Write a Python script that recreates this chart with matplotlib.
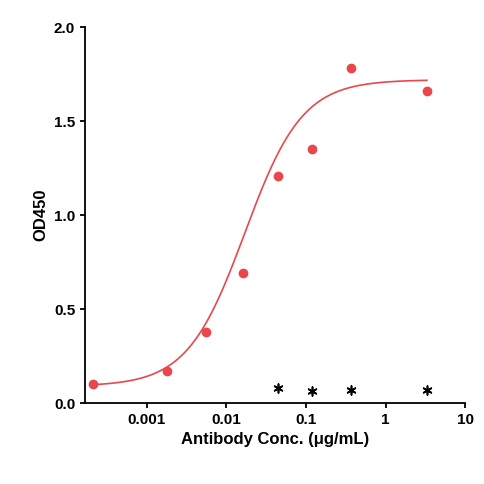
import numpy as np
import matplotlib
matplotlib.use("Agg")
import matplotlib.pyplot as plt
plt.rcParams['font.family'] = ['Liberation Sans', 'DejaVu Sans']

conc = [0.00021, 0.0018, 0.0055, 0.016, 0.044, 0.12, 0.37, 3.3]
od = [0.10, 0.17, 0.38, 0.69, 1.21, 1.35, 1.78, 1.66]
ctrl_conc = [0.044, 0.12, 0.37, 3.3]
ctrl_od = [0.08, 0.065, 0.07, 0.07]
bottom, top, ec50, hill = 0.09, 1.72, 0.017, 1.2

fig = plt.figure(figsize=(4.85, 4.84), dpi=100)
ax = fig.add_axes([0.175, 0.167, 0.784, 0.777])
xs = np.logspace(np.log10(0.00021), np.log10(3.3), 300)
ys = bottom + (top - bottom) / (1 + (ec50 / xs) ** hill)
ax.plot(xs, ys, color="#e8474c", lw=1.2)
ax.scatter(conc, od, color="#e8474c", s=36, zorder=3)
ax.scatter(ctrl_conc, ctrl_od, color="black", marker=(6, 2, 0), s=40, lw=1.2, zorder=3)
ax.set_xscale("log")
ax.set_xlim(0.000166, 10)
ax.set_ylim(0, 2.0)
ax.set_xticks([0.001, 0.01, 0.1, 1, 10])
ax.set_xticklabels(["0.001", "0.01", "0.1", "1", "10"])
ax.minorticks_off()
ax.set_yticks([0, 0.5, 1.0, 1.5, 2.0])
ax.set_yticklabels(["0.0", "0.5", "1.0", "1.5", "2.0"])
for s in ["top", "right"]:
    ax.spines[s].set_visible(False)
for s in ["left", "bottom"]:
    ax.spines[s].set_linewidth(1.3)
ax.tick_params(width=1.3, labelsize=11)
for lab in ax.get_xticklabels() + ax.get_yticklabels():
    lab.set_fontweight("bold")
ax.set_xlabel("Antibody Conc. (μg/mL)", fontsize=12, fontweight="bold")
ax.set_ylabel("OD450", fontsize=12, fontweight="bold")
fig.savefig("out.png", dpi=100)
